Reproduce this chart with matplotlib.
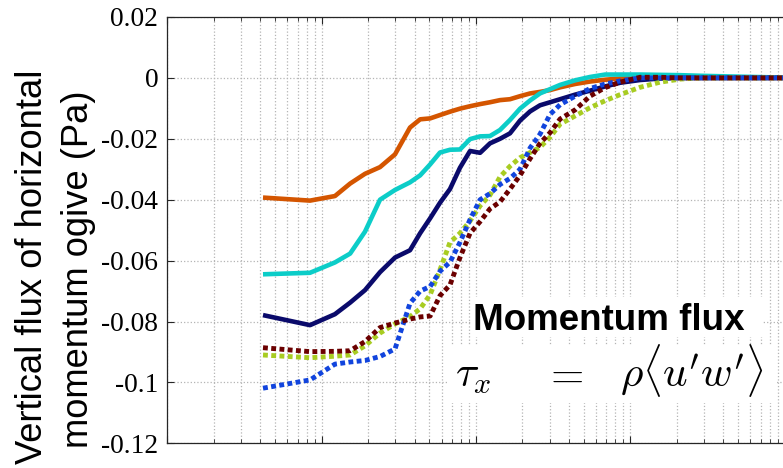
import matplotlib
matplotlib.use("Agg")
import matplotlib.pyplot as plt
from matplotlib.patches import Rectangle
from matplotlib.ticker import FuncFormatter

plt.rcParams['axes.unicode_minus'] = False
plt.rcParams['mathtext.fontset'] = 'cm'

# frequency (Hz) and cumulative ogive of the momentum flux (Pa) for each run
freq = [4.17e-4, 8.41e-4, 1.22e-3, 1.53e-3, 1.91e-3, 2.39e-3, 2.99e-3, 3.74e-3,
        4.35e-3, 5.05e-3, 5.85e-3, 6.79e-3, 7.88e-3, 9.16e-3, 1.064e-2, 1.233e-2,
        1.432e-2, 1.663e-2, 1.932e-2, 2.244e-2, 2.60e-2, 3.02e-2, 3.51e-2, 4.39e-2,
        5.48e-2, 6.87e-2, 8.59e-2, 0.1156, 0.156, 0.210, 0.283, 0.515, 1.26]

orange = [-0.0393, -0.0403, -0.0388, -0.0347, -0.0315, -0.0293, -0.0251, -0.0163,
          -0.0136, -0.0133, -0.0122, -0.0111, -0.0101, -0.0093, -0.0086, -0.0080,
          -0.0073, -0.0070, -0.0060, -0.0051, -0.0046, -0.0040, -0.0031, -0.0020,
          -0.0012, -0.0006, -0.0002, 0, 0, 0, 0, 0, 0]
cyan = [-0.0645, -0.0640, -0.0606, -0.0577, -0.0505, -0.0400, -0.0368, -0.0343,
        -0.0320, -0.0284, -0.0245, -0.0236, -0.0235, -0.0201, -0.0192, -0.0191,
        -0.0171, -0.0138, -0.0101, -0.0074, -0.0051, -0.0037, -0.0023, -0.0008,
        0.0003, 0.0011, 0.0011, 0.0011, 0.0010, 0.0009, 0.0007, 0.0004, 0.0]
navy = [-0.0779, -0.0812, -0.0776, -0.0738, -0.0697, -0.0638, -0.0590, -0.0566,
        -0.0510, -0.0461, -0.0410, -0.0365, -0.0295, -0.0240, -0.0246, -0.0215,
        -0.0200, -0.0182, -0.0140, -0.0110, -0.0090, -0.0080, -0.0070, -0.0055,
        -0.0042, -0.0028, -0.0016, -0.0007, -0.0002, 0, 0, 0, 0]
green = [-0.0910, -0.0919, -0.0914, -0.0910, -0.0880, -0.0838, -0.0808, -0.0784,
         -0.0758, -0.0712, -0.0630, -0.0540, -0.0510, -0.0470, -0.0420, -0.0385,
         -0.0325, -0.0290, -0.0262, -0.0245, -0.0228, -0.0195, -0.0152, -0.0125,
         -0.0098, -0.0075, -0.0055, -0.0031, -0.0014, -0.0004, 0, 0, 0]
blue = [-0.1019, -0.0992, -0.0940, -0.0933, -0.0928, -0.0915, -0.0890, -0.0740,
        -0.0700, -0.0685, -0.0635, -0.0605, -0.0540, -0.0465, -0.0400, -0.0380,
        -0.0350, -0.0330, -0.0300, -0.0230, -0.0185, -0.0120, -0.0088, -0.0060,
        -0.0035, -0.0020, -0.0010, 0, 0, 0, 0, 0, 0]
maroon = [-0.0886, -0.0899, -0.0898, -0.0896, -0.0866, -0.0820, -0.0805, -0.0792,
          -0.0785, -0.0782, -0.0715, -0.0680, -0.0590, -0.0510, -0.0472, -0.0430,
          -0.0407, -0.0365, -0.0320, -0.0265, -0.0215, -0.0180, -0.0135, -0.0105,
          -0.0060, -0.0032, -0.0014, 0.0002, 0.0002, 0.0, 0.0, 0.0, 0.0]

yticks = [-0.12, -0.1, -0.08, -0.06, -0.04, -0.02, 0, 0.02]

W, H = 783, 468
fig = plt.figure(figsize=(W / 100, H / 100), dpi=100)
# axes runs past the right edge of the canvas
ax = fig.add_axes([167.3 / W, 24.7 / H, 632.7 / W, 426.3 / H])

dots = (0, (1, 0.7))
ax.plot(freq, orange, color='#d45500', lw=3.3, solid_capstyle='butt')
ax.plot(freq, cyan, color='#0ccdc8', lw=3.3, solid_capstyle='butt')
ax.plot(freq, navy, color='#0a0a6b', lw=3.3, solid_capstyle='butt')
ax.plot(freq, green, color='#a8cc22', lw=3.5, linestyle=dots)
ax.plot(freq, blue, color='#1144dd', lw=3.5, linestyle=dots)
ax.plot(freq, maroon, color='#6b0000', lw=3.5, linestyle=dots)

ax.set_xscale('log')
ax.set_xlim(1e-4, 10 ** 0.1)
ax.set_ylim(-0.12, 0.02)
ax.set_yticks(yticks)
ax.yaxis.set_major_formatter(FuncFormatter(lambda v, p: '%g' % round(v, 3)))
for lab in ax.get_yticklabels():
    lab.set_fontfamily('Liberation Serif')
    lab.set_fontsize(19.8)

ax.grid(True, which='major', axis='both', linestyle=':', color='#b4b4b4', lw=0.9)
ax.grid(True, which='minor', axis='x', linestyle=':', color='#b4b4b4', lw=0.9)
ax.tick_params(which='both', direction='in', top=True, right=True,
               labelbottom=False, color='#262626')
ax.tick_params(which='major', length=5, width=0.8, pad=6.5)
ax.tick_params(which='minor', length=3, width=0.6)
for s in ax.spines.values():
    s.set_color('#262626')
    s.set_linewidth(0.9)

# two-line axis label, placed on its baselines
fig.text(42 / W, 1 - 266.5 / H, 'Vertical flux of horizontal', rotation=90,
         rotation_mode='anchor', ha='center', va='baseline',
         fontsize=26.2, family='Liberation Sans')
fig.text(88 / W, 1 - 269 / H, 'momentum ogive (Pa)', rotation=90,
         rotation_mode='anchor', ha='center', va='baseline',
         fontsize=26.2, family='Liberation Sans')

# white panels behind the annotation
def panel(x0, y0, x1, y1):
    fig.add_artist(Rectangle((x0 / W, 1 - y1 / H), (x1 - x0) / W, (y1 - y0) / H,
                             transform=fig.transFigure, facecolor='white',
                             edgecolor='none', zorder=2))

panel(472, 297, 763, 337)
panel(448, 345, 777, 403)

fig.text(473 / W, 1 - 330 / H, 'Momentum flux', fontsize=26.5, fontweight='bold',
         family='Liberation Sans', ha='left', va='baseline', zorder=3)
fig.text(455 / W, 1 - 387 / H, r'$\tau_x$', fontsize=31,
         ha='left', va='baseline', zorder=3)
fig.text(543 / W, 1 - 387 / H, r'$=$', fontsize=31,
         ha='left', va='baseline', zorder=3)
fig.text(620 / W, 1 - 387 / H, r'$\rho\langle u^{\prime} w^{\prime}\rangle$',
         fontsize=31, ha='left', va='baseline', zorder=3)

fig.savefig('out.png', dpi=100)
